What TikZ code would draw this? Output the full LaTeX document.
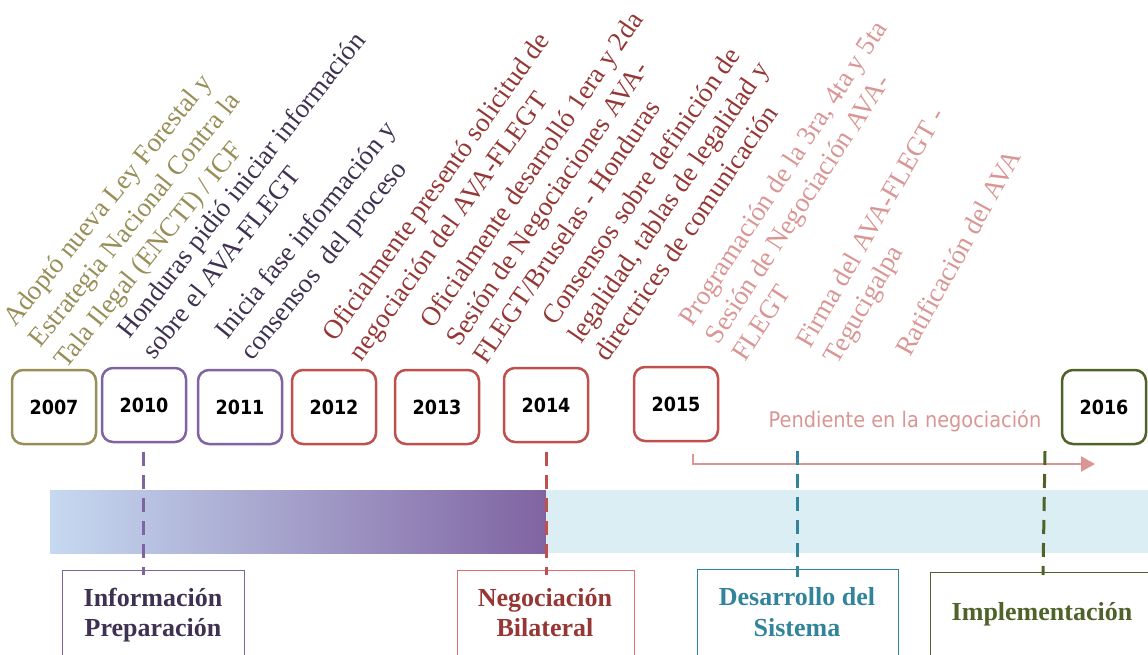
\documentclass[tikz,border=0pt]{standalone}
\usepackage{fontspec}
\setmainfont{Liberation Serif}
\newfontfamily\tahoma[FakeStretch=0.9]{DejaVu Sans}
\usetikzlibrary{arrows.meta}
\definecolor{olivec}{RGB}{152,142,88}
\definecolor{purp}{RGB}{128,100,162}
\definecolor{dpurp}{RGB}{63,49,81}
\definecolor{redc}{RGB}{192,80,77}
\definecolor{dred}{RGB}{149,55,53}
\definecolor{pinkc}{RGB}{217,150,148}
\definecolor{pinkb}{RGB}{214,112,110}
\definecolor{tealc}{RGB}{49,132,155}
\definecolor{dgreen}{RGB}{79,98,40}
\definecolor{lblue}{RGB}{198,217,241}
\definecolor{lteal}{RGB}{218,238,243}
\begin{document}
\begin{tikzpicture}[x=1pt,y=1pt,
  yearbox/.style={draw, line width=2.5pt, rounded corners=11pt, minimum width=84pt, minimum height=74pt, inner sep=0pt, fill=white, font=\tahoma\bfseries\fontsize{19.5}{22}\selectfont},
  rt/.style={anchor=base west, inner sep=0pt, font=\fontsize{27}{31}\selectfont},
  phasebox/.style={draw, line width=1.3pt, anchor=north west, inner sep=0pt, minimum height=110pt},
  phtext/.style={anchor=base, inner sep=0pt, font=\bfseries\fontsize{26}{30}\selectfont},
  dline/.style={line width=3pt, dash pattern=on 14pt off 9pt}]
\useasboundingbox (0,0) rectangle (1148,-655);
\clip (0,0) rectangle (1148,-655);

% rotated event texts
\begin{scope}[shift={(15,-328)}, rotate=51, transform shape]
  \node[rt, text=olivec] (e1a) at (0,0) {Adoptó nueva Ley Forestal y};
  \node[rt, text=olivec] (e1b) at (0,-33) {Estrategia Nacional Contra la};
  \node[rt, text=olivec] (e1c) at (0,-66) {Tala Ilegal (ENCTI) / ICF};
\end{scope}
\begin{scope}[shift={(129,-340)}, rotate=51.5, transform shape]
  \node[rt, text=dpurp] (e2a) at (0,0) {Honduras pidió iniciar información};
  \node[rt, text=dpurp] (e2b) at (0,-33) {sobre el AVA-FLEGT};
\end{scope}
\begin{scope}[shift={(227,-341)}, rotate=51, transform shape]
  \node[rt, text=dpurp] (e3a) at (0,0) {Inicia fase información y};
  \node[rt, text=dpurp] (e3b) at (0,-33) {consensos~ del proceso};
\end{scope}
\begin{scope}[shift={(335,-343)}, rotate=54.5, transform shape]
  \node[rt, text=dred] (e4a) at (0,0) {Oficialmente presentó solicitud de};
  \node[rt, text=dred] (e4b) at (0,-33) {negociación del AVA-FLEGT};
\end{scope}
\begin{scope}[shift={(433,-330)}, rotate=55.8, transform shape]
  \node[rt, text=dred] (e5a) at (0,0) {Oficialmente desarrolló 1era y 2da};
  \node[rt, text=dred] (e5b) at (0,-32) {Sesión de Negociaciones AVA-};
  \node[rt, text=dred] (e5c) at (0,-64) {FLEGT/Bruselas - Honduras};
\end{scope}
\begin{scope}[shift={(555,-327)}, rotate=55.6, transform shape]
  \node[rt, text=dred] (e6a) at (0,0) {Consensos sobre definición de};
  \node[rt, text=dred] (e6b) at (0,-32) {legalidad, tablas de legalidad y};
  \node[rt, text=dred] (e6c) at (0,-64) {directrices de comunicación};
\end{scope}
\begin{scope}[shift={(692,-328)}, rotate=56.8, transform shape]
  \node[rt, text=pinkc] (e7a) at (0,0) {Programación de la 3ra, 4ta y 5ta};
  \node[rt, text=pinkc] (e7b) at (0,-32) {Sesión de Negociación AVA-};
  \node[rt, text=pinkc] (e7c) at (0,-64) {FLEGT};
\end{scope}
\begin{scope}[shift={(810,-350)}, rotate=60, transform shape]
  \node[rt, text=pinkc] (e8a) at (0,0) {Firma del AVA-FLEGT -};
  \node[rt, text=pinkc] (e8b) at (0,-32) {Tegucigalpa};
\end{scope}
\begin{scope}[shift={(910,-358)}, rotate=61, transform shape]
  \node[rt, text=pinkc] (e9a) at (0,0) {Ratificación del AVA};
\end{scope}

% year boxes
\node[yearbox, draw=olivec] (y2007) at (54,-407) {2007};
\node[yearbox, draw=purp] (y2010) at (144,-405) {2010};
\node[yearbox, draw=purp] (y2011) at (240,-407) {2011};
\node[yearbox, draw=redc] (y2012) at (334,-407) {2012};
\node[yearbox, draw=redc] (y2013) at (437,-407) {2013};
\node[yearbox, draw=redc] (y2014) at (546,-405) {2014};
\node[yearbox, draw=redc] (y2015) at (676,-404) {2015};
\node[yearbox, draw=dgreen] (y2016) at (1104,-407) {2016};

\node[anchor=base, inner sep=0pt, text=pinkc, font=\tahoma\fontsize{21.5}{24}\selectfont] (pend) at (905,-427) {Pendiente en la negociación};

% bar
\shade[left color=lblue, right color=purp] (50,-490) rectangle (546,-553);
\fill[lteal] (546,-490) rectangle (1148,-553);

% arrow
\coordinate (a0) at (693,-454);
\coordinate (a1) at (693,-464);
\coordinate (a2) at (1095,-464);
\draw[pinkc, line width=2pt, -{Triangle[length=14pt,width=15pt]}] (a0) -- (a1) -- (a2);

% phase boxes
\node[phasebox, draw=purp, minimum width=182pt] (pb1) at (62,-570) {};
\node[phasebox, draw=pinkb, minimum width=177pt] (pb2) at (457,-570) {};
\node[phasebox, draw=tealc, minimum width=201pt] (pb3) at (697,-569) {};
\node[phasebox, draw=dgreen, minimum width=230pt] (pb4) at (930,-572) {};

\node[phtext, text=dpurp] (p1a) at (153,-606) {Información};
\node[phtext, text=dpurp] (p1b) at (153,-636) {Preparación};
\node[phtext, text=dred] (p2a) at (545,-606) {Negociación};
\node[phtext, text=dred] (p2b) at (545,-636) {Bilateral};
\node[phtext, text=tealc] (p3a) at (797,-605) {Desarrollo del};
\node[phtext, text=tealc] (p3b) at (797,-636) {Sistema};
\node[phtext, text=dgreen] (p4a) at (1042,-620) {Implementación};

% dashed lines
\coordinate (d1t) at (143,-452); \coordinate (d1b) at (143,-575);
\coordinate (d2t) at (546,-452); \coordinate (d2b) at (546,-575);
\coordinate (d3t) at (797,-451); \coordinate (d3b) at (797,-577);
\coordinate (d4t) at (1045,-451); \coordinate (d4b) at (1043,-575);
\draw[dline, purp] (d1t) -- (d1b);
\draw[dline, redc] (d2t) -- (d2b);
\draw[dline, tealc] (d3t) -- (d3b);
\draw[dline, dgreen] (d4t) -- (d4b);
\end{tikzpicture}
\end{document}
